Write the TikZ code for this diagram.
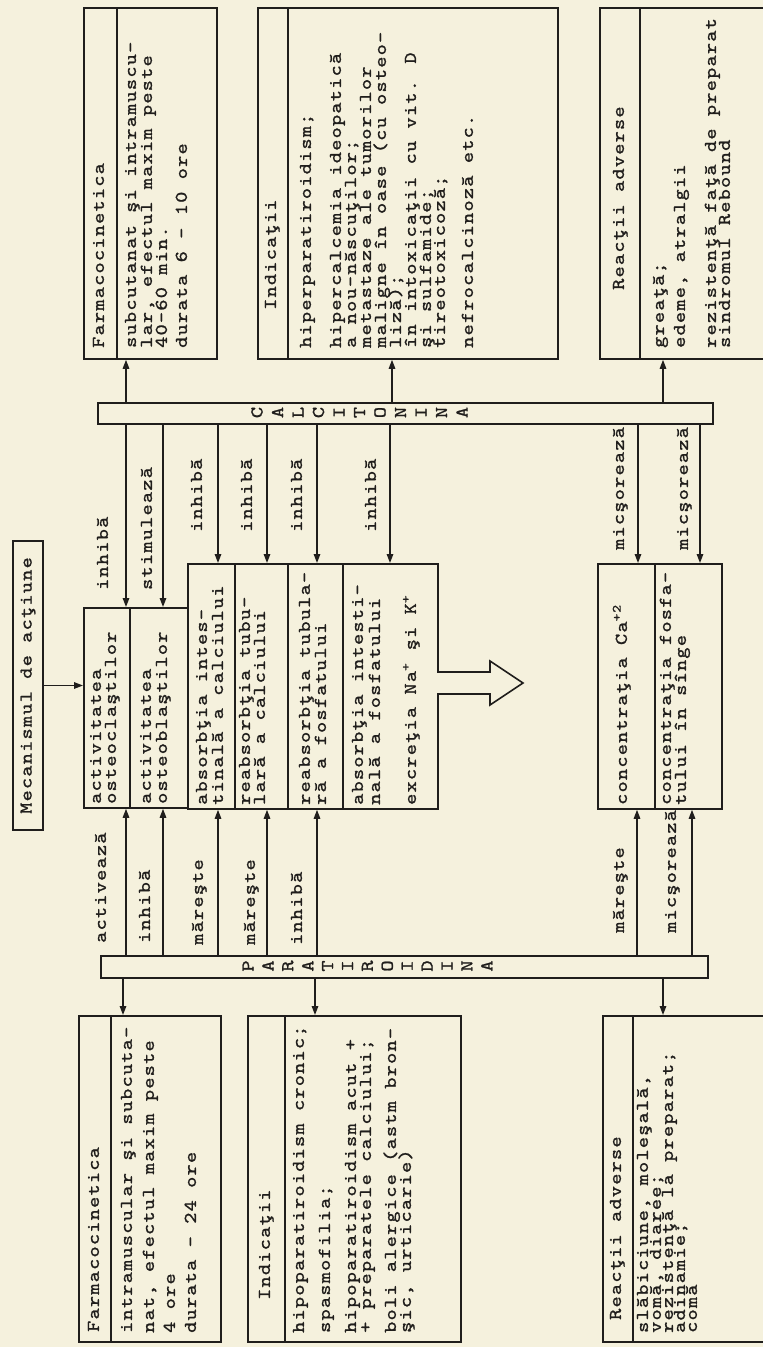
\documentclass[tikz,border=0pt]{standalone}
\usepackage{fontspec}
\newfontfamily\tw{lmmono10-regular.otf}[FakeStretch=1.18,LetterSpace=6.9,FakeBold=1.2]
\usetikzlibrary{arrows.meta}
\definecolor{paper}{RGB}{245,241,221}
\definecolor{ink}{RGB}{32,30,28}
\newcommand\twf{\tw\fontsize{18}{16}\selectfont\spaceskip=12.4pt\relax}
\tikzset{
  box/.style={draw=ink, line width=1.8pt, inner sep=0pt, anchor=north west},
  divl/.style={draw=ink, line width=1.6pt},
  ln/.style={rotate=90, anchor=west, inner sep=0pt, text height=7.8pt, text depth=0pt,
    font=\twf, text=ink},
  letter/.style={rotate=90, inner sep=0pt, font=\twf, text=ink},
  arr/.style={draw=ink, line width=1.4pt, -{Triangle[length=9pt,width=6.5pt]}}
}
\begin{document}
\begin{tikzpicture}[x=1pt,y=-1pt]
\fill[paper] (0,0) rectangle (763,1347);
\useasboundingbox (0,0) rectangle (763,1347);
\clip (0,0) rectangle (763,1347);

% ---------- boxes ----------
\node[box, minimum width=133pt, minimum height=351pt] (farmT) at (83,7) {};
\node[box, minimum width=300pt, minimum height=351pt] (indT) at (257,7) {};
\node[box, minimum width=200pt, minimum height=351pt] (reaT) at (599,7) {};
\node[box, minimum width=615pt, minimum height=21pt] (cbar) at (97,402) {};
\node[box, minimum width=104pt, minimum height=200pt] (act) at (83,607) {};
\node[box, minimum width=250pt, minimum height=245pt] (abs) at (187,563) {};
\node[box, minimum width=124pt, minimum height=245pt] (conc) at (597,563) {};
\node[box, minimum width=607pt, minimum height=22pt] (pbar) at (100,955) {};
\node[box, minimum width=142pt, minimum height=326pt] (farmB) at (78,1015) {};
\node[box, minimum width=213pt, minimum height=326pt] (indB) at (247,1015) {};
\node[box, minimum width=200pt, minimum height=326pt] (reaB) at (602,1015) {};
\node[draw=ink, line width=2.4pt, rotate=90, minimum width=289pt, minimum height=30pt,
  inner sep=0pt, font=\twf, text=ink] (mec) at (28,685.5) {Mecanismul de acţiune};

% ---------- dividers ----------
\draw[divl] (117,7) -- (117,358);
\draw[divl] (288,7) -- (288,358);
\draw[divl] (640,7) -- (640,358);
\draw[divl] (130,607) -- (130,807);
\draw[divl] (235,563) -- (235,808);
\draw[divl] (288,563) -- (288,808);
\draw[divl] (343,563) -- (343,808);
\draw[divl] (655,563) -- (655,808);
\draw[divl] (111,1015) -- (111,1341);
\draw[divl] (285,1015) -- (285,1341);
\draw[divl] (633,1015) -- (633,1341);

% ---------- hollow arrow ----------
\draw[draw=ink, line width=1.6pt, fill=paper] (437,672) -- (490,672) -- (490,661) -- (523,683)
  -- (490,705) -- (490,694) -- (437,694);

% ---------- bar letters ----------
\foreach \l [count=\i from 0] in {C,A,L,C,I,T,O,N,I,N,A}
  \node[letter] (cl\i) at (257+20.5*\i,412.5) {\l};
\foreach \l [count=\i from 0] in {P,A,R,A,T,I,R,O,I,D,I,N,A}
  \node[letter] (pl\i) at (248+19.9*\i,966) {\l};

% ---------- x positions for connectors ----------
\coordinate (k126) at (126,0);
\coordinate (k123) at (123,0);
\coordinate (k163) at (163,0);
\coordinate (k218) at (218,0);
\coordinate (k267) at (267,0);
\coordinate (k315) at (315,0);
\coordinate (k317) at (317,0);
\coordinate (k390) at (390,0);
\coordinate (k392) at (392,0);
\coordinate (k637) at (637,0);
\coordinate (k638) at (638,0);
\coordinate (k663) at (663,0);
\coordinate (k692) at (692,0);
\coordinate (k700) at (700,0);

% ---------- connectors ----------
\draw[arr] (cbar.north -| k126) -- (farmT.south -| k126);
\draw[arr] (cbar.north -| k392) -- (indT.south -| k392);
\draw[arr] (cbar.north -| k663) -- (reaT.south -| k663);
\draw[arr] (cbar.south -| k126) -- (act.north -| k126);
\draw[arr] (cbar.south -| k163) -- (act.north -| k163);
\draw[arr] (cbar.south -| k218) -- (abs.north -| k218);
\draw[arr] (cbar.south -| k267) -- (abs.north -| k267);
\draw[arr] (cbar.south -| k317) -- (abs.north -| k317);
\draw[arr] (cbar.south -| k390) -- (abs.north -| k390);
\draw[arr] (cbar.south -| k638) -- (conc.north -| k638);
\draw[arr] (cbar.south -| k700) -- (conc.north -| k700);
\draw[arr] (pbar.north -| k126) -- (act.south -| k126);
\draw[arr] (pbar.north -| k163) -- (act.south -| k163);
\draw[arr] (pbar.north -| k218) -- (abs.south -| k218);
\draw[arr] (pbar.north -| k267) -- (abs.south -| k267);
\draw[arr] (pbar.north -| k317) -- (abs.south -| k317);
\draw[arr] (pbar.north -| k637) -- (conc.south -| k637);
\draw[arr] (pbar.north -| k692) -- (conc.south -| k692);
\draw[arr] (pbar.south -| k123) -- (farmB.north -| k123);
\draw[arr] (pbar.south -| k315) -- (indB.north -| k315);
\draw[arr] (pbar.south -| k663) -- (reaB.north -| k663);
\draw[arr] (mec.south) -- (mec.south -| act.west);

% ---------- top boxes text ----------
\node[ln] (t1) at (100,348) {Farmacocinetica};
\node[ln] (t2) at (132,348) {subcutanat şi intramuscu-};
\node[ln] (t3) at (148,348) {lar, efectul maxim peste};
\node[ln] (t4) at (163,348) {40-60 min.};
\node[ln] (t5) at (183,348) {durata 6 - 10 ore};

\node[ln] (t6) at (272,310) {Indicaţii};
\node[ln] (t7) at (307,348) {hiperparatiroidism;};
\node[ln] (t8) at (337,348) {hipercalcemia ideopatică};
\node[ln] (t9) at (352,348) {a nou-născuţilor;};
\node[ln] (t10) at (367,348) {metastaze ale tumorilor};
\node[ln] (t11) at (382,348) {maligne în oase (cu osteo-};
\node[ln] (t12) at (397,348) {liză);};
\node[ln] (t13) at (412,348) {în intoxicaţii cu vit. D};
\node[ln] (t14) at (427,348) {şi sulfamide;};
\node[ln] (t15) at (441,348) {tireotoxicoză;};
\node[ln] (t16) at (469,348) {nefrocalcinoză etc.};

\node[ln] (t17) at (620,290) {Reacţii adverse};
\node[ln] (t18) at (660,348) {greaţă;};
\node[ln] (t19) at (681,348) {edeme, atralgii};
\node[ln] (t20) at (712,348) {rezistenţă faţă de preparat};
\node[ln] (t21) at (726,348) {sindromul Rebound};

% ---------- central boxes text ----------
\node[ln] (t22) at (97,804) {activitatea};
\node[ln] (t23) at (112,804) {osteoclaştilor};
\node[ln] (t24) at (147,804) {activitatea};
\node[ln] (t25) at (163,804) {osteoblaştilor};
\node[ln] (t26) at (203,805) {absorbţia intes-};
\node[ln] (t27) at (219,805) {tinală a calciului};
\node[ln] (t28) at (246,805) {reabsorbţia tubu-};
\node[ln] (t29) at (261,805) {lară a calciului};
\node[ln] (t30) at (306,805) {reabsorbţia tubula-};
\node[ln] (t31) at (322,805) {ră a fosfatului};
\node[ln] (t32) at (359,805) {absorbţia intesti-};
\node[ln] (t33) at (376,805) {nală a fosfatului};
\node[ln] (t34) at (412,805) {excreţia Na\textsuperscript{+} şi K\textsuperscript{+}};
\node[ln] (t35) at (623,805) {concentraţia Ca\textsuperscript{+2}};
\node[ln] (t36) at (667,805) {concentraţia fosfa-};
\node[ln] (t37) at (682,805) {tului în sînge};

% ---------- connector labels ----------
\node[ln] (l1) at (104,590) {inhibă};
\node[ln] (l2) at (148,590) {stimulează};
\node[ln] (l3) at (198,532) {inhibă};
\node[ln] (l4) at (248,532) {inhibă};
\node[ln] (l5) at (298,532) {inhibă};
\node[ln] (l6) at (372,532) {inhibă};
\node[ln] (l7) at (620,550) {micşorează};
\node[ln] (l8) at (684,550) {micşorează};
\node[ln] (l9) at (102,943) {activează};
\node[ln] (l10) at (146,943) {inhibă};
\node[ln] (l11) at (199,945) {măreşte};
\node[ln] (l12) at (251,945) {măreşte};
\node[ln] (l13) at (298,945) {inhibă};
\node[ln] (l14) at (620,933) {măreşte};
\node[ln] (l15) at (672,933) {micşorează};

% ---------- bottom boxes text ----------
\node[ln] (t38) at (95,1332) {Farmacocinetica};
\node[ln] (t39) at (128,1333) {intramuscular şi subcuta-};
\node[ln] (t40) at (150,1333) {nat, efectul maxim peste};
\node[ln] (t41) at (171,1333) {4 ore};
\node[ln] (t42) at (192,1333) {durata - 24 ore};

\node[ln] (t43) at (266,1300) {Indicaţii};
\node[ln] (t44) at (300,1333) {hipoparatiroidism cronic;};
\node[ln] (t45) at (326,1333) {spasmofilia;};
\node[ln] (t46) at (352,1333) {hipoparatiroidism acut +};
\node[ln] (t47) at (367,1333) {+ preparatele calciului;};
\node[ln] (t48) at (392,1333) {boli alergice (astm bron-};
\node[ln] (t49) at (407,1333) {şic, urticarie)};

\node[ln] (t50) at (617,1320) {Reacţii adverse};
\node[ln] (t51) at (644,1333) {slăbiciune, moleşală,};
\node[ln] (t52) at (657,1333) {vomă, diaree;};
\node[ln] (t53) at (669,1333) {rezistenţă la preparat;};
\node[ln] (t54) at (681,1333) {adinamie;};
\node[ln] (t55) at (693,1333) {comă};
\end{tikzpicture}
\end{document}
